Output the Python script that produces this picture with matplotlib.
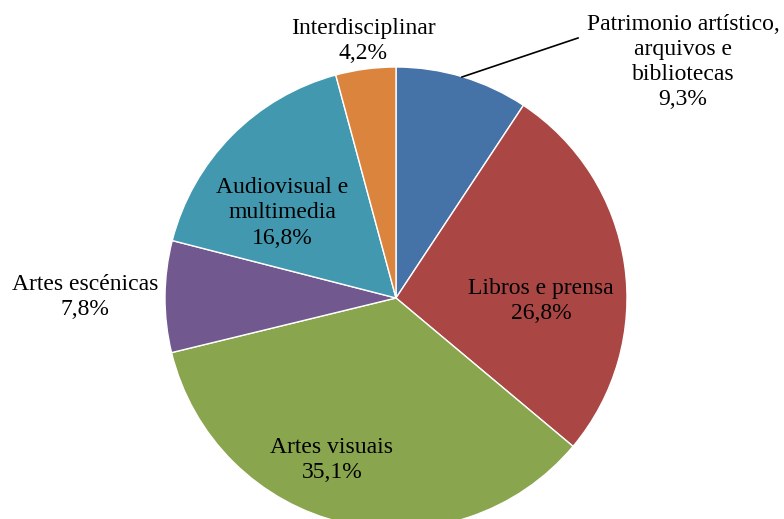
import matplotlib
matplotlib.use("Agg")
import matplotlib.pyplot as plt

# data
categories = ["Patrimonio artístico,\narquivos e\nbibliotecas", "Libros e prensa", "Artes visuais",
              "Artes escénicas", "Audiovisual e\nmultimedia", "Interdisciplinar"]
shares = [9.3, 26.8, 35.1, 7.8, 16.8, 4.2]
colors = ["#4572A7", "#AA4643", "#89A54E", "#71588F", "#4198AF", "#DB843D"]

plt.rcParams['font.family'] = ['Liberation Serif', 'DejaVu Serif']

fig = plt.figure(figsize=(7.84, 5.19), dpi=100)
ax = fig.add_axes([0, 0, 1, 1])

cx, cy, r = 396, 221, 231
ax.pie(shares, colors=colors, startangle=90, counterclock=False, radius=r, center=(cx, cy),
       wedgeprops=dict(edgecolor="white", linewidth=1), frame=True)
ax.set_xlim(0, 784)
ax.set_ylim(0, 519)
ax.set_aspect("equal")
ax.axis("off")

def fmt(v):
    return f"{v:.1f}".replace(".", ",") + "%"

# label offsets from pie centre (pixels)
offsets = [(287, 236), (145, -3), (-64, -162), (-311, 1), (-114, 85), (-33, 257)]
for name, v, (dx, dy) in zip(categories, shares, offsets):
    ax.text(cx + dx, cy + dy, name + "\n" + fmt(v), ha="center", va="center",
            fontsize=17, linespacing=1.27, color="black")

# leader line for the first slice
ax.plot([462, 578], [519 - 77, 519 - 38], color="black", linewidth=1.2)

fig.savefig("out.png", dpi=100)
